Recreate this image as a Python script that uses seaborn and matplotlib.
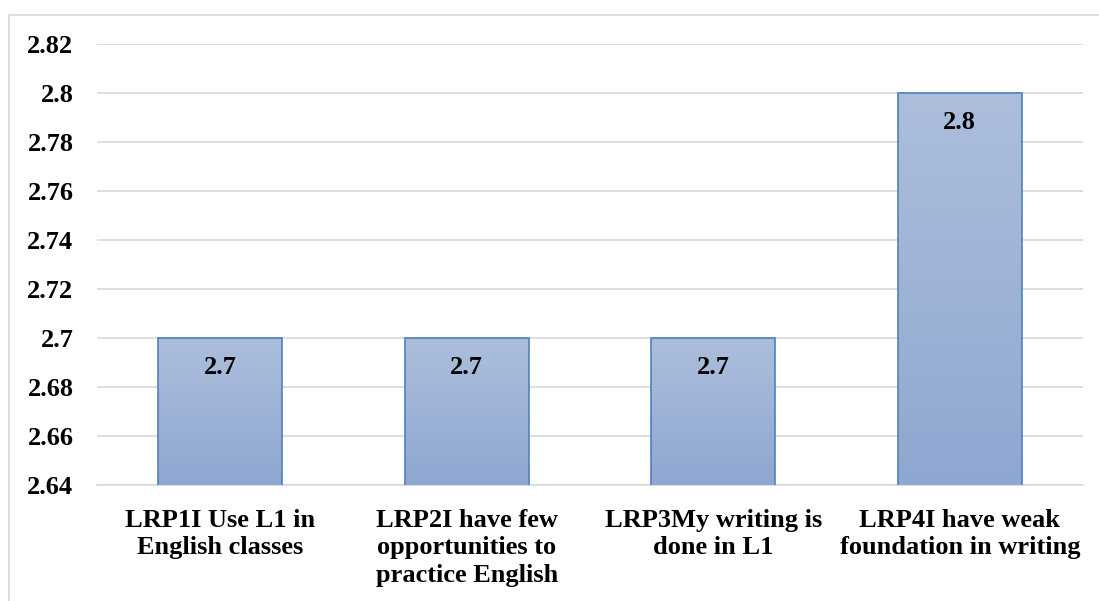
import numpy as np
import pandas as pd
import matplotlib
matplotlib.use("Agg")
import matplotlib.pyplot as plt
from matplotlib.patches import Rectangle
import seaborn as sns

categories = [
    "LRP1I Use L1 in\nEnglish classes",
    "LRP2I have few\nopportunities to\npractice English",
    "LRP3My writing is\ndone in L1",
    "LRP4I have weak\nfoundation in writing",
]
values = [2.7, 2.7, 2.7, 2.8]
yticks = [2.64, 2.66, 2.68, 2.70, 2.72, 2.74, 2.76, 2.78, 2.80, 2.82]
ytick_labels = ["2.64", "2.66", "2.68", "2.7", "2.72", "2.74", "2.76", "2.78", "2.8", "2.82"]

sns.set_theme(style="white")
plt.rcParams["font.family"] = ["Liberation Serif", "DejaVu Serif"]
plt.rcParams["font.weight"] = "bold"
plt.rcParams["text.color"] = "black"
plt.rcParams["xtick.color"] = "black"
plt.rcParams["ytick.color"] = "black"

df = pd.DataFrame({"item": categories, "mean": values})

fig = plt.figure(figsize=(10.99, 6.01), dpi=100)
ax = fig.add_axes([97 / 1099, 1 - 485 / 601, (1083 - 97) / 1099, (485 - 44) / 601])

# outer chart frame
fig.patches.append(Rectangle((9 / 1099, -0.1), 1.2, 1 - 15 / 601 + 0.1,
                             transform=fig.transFigure, fill=False,
                             edgecolor="#D9D9D9", linewidth=1.2, zorder=0))

sns.barplot(data=df, x="item", y="mean", ax=ax, width=0.503,
            color="#9FB4D8", edgecolor="#4F81BD", linewidth=1.2,
            saturation=1, zorder=3)

ax.set_ylim(2.64, 2.82)
ax.set_xlim(-0.5, 3.5)

# vertical gradient fill for each bar
grad = np.linspace(0, 1, 256).reshape(-1, 1)
cmap = matplotlib.colors.LinearSegmentedColormap.from_list(
    "barfill", ["#8EA7D1", "#ADBEDC"])
for patch in ax.patches:
    x0, y0 = patch.get_x(), patch.get_y()
    w, h = patch.get_width(), patch.get_height()
    top = y0 + h
    im = ax.imshow(grad, extent=[x0, x0 + w, 2.64, top], origin="lower",
                   cmap=cmap, aspect="auto", zorder=3.5)
    im.set_clip_path(patch)
    patch.set_facecolor("none")
    patch.set_zorder(4)

ax.set_xlim(-0.5, 3.5)
ax.set_ylim(2.64, 2.82)

for i, v in enumerate(values):
    ax.text(i, v - 0.0122, f"{v:g}", ha="center", va="center",
            fontsize=19, fontweight="bold", color="black", zorder=5)

ax.set_yticks(yticks)
ax.set_yticklabels(ytick_labels, fontsize=19, fontweight="bold")
ax.set_xticks(range(len(categories)))
ax.set_xticklabels(categories, fontsize=19, fontweight="bold", linespacing=1.26)
ax.tick_params(axis="y", length=0, pad=17)
ax.tick_params(axis="x", length=0, pad=17)
ax.set_xlabel("")
ax.set_ylabel("")

ax.yaxis.grid(True, color="#D9D9D9", linewidth=1.2, zorder=0)
ax.set_axisbelow(True)
for side in ["left", "right", "top"]:
    ax.spines[side].set_visible(False)
ax.spines["bottom"].set_color("#D9D9D9")
ax.spines["bottom"].set_linewidth(1.2)

fig.savefig("out.png", dpi=100, facecolor="white")
